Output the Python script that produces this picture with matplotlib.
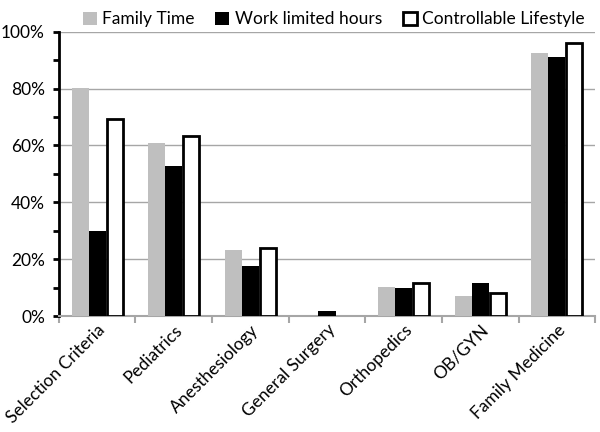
"""Career selection criteria by specialty, grouped bar chart."""

import numpy as np
import matplotlib.pyplot as plt
from matplotlib.ticker import MultipleLocator, PercentFormatter

plt.rcParams["font.family"] = ["Lato", "DejaVu Sans"]

categories = [
    "Selection Criteria",
    "Pediatrics",
    "Anesthesiology",
    "General Surgery",
    "Orthopedics",
    "OB/GYN",
    "Family Medicine",
]
family_time = [80.3, 61.0, 23.3, 0.0, 10.2, 7.2, 92.6]
work_limited = [30.0, 52.6, 17.6, 1.8, 9.7, 11.5, 91.2]
controllable = [69.4, 63.2, 24.0, 0.0, 11.5, 8.2, 96.2]

series = [
    ("Family Time", family_time, "#bfbfbf", "#bfbfbf", 0),
    ("Work limited hours", work_limited, "black", "black", 0),
    ("Controllable Lifestyle", controllable, "white", "black", 2),
]

fig = plt.figure(figsize=(6, 4.32), dpi=100)
ax = fig.add_axes([0.098, 0.2685, 0.894, 0.658])

x = np.arange(len(categories))
width = 0.222
handles = []
for i, (name, vals, face, edge, lw) in enumerate(series):
    pos = x + (i - 1) * width
    if lw:
        # outline bars, slightly offset so the border doesn't cover the black bar
        bars = ax.bar(pos + width * 0.03, vals, width=width * 0.94, color=face,
                      edgecolor=edge, linewidth=lw, zorder=3)
        for b, v in zip(bars, vals):
            if v == 0:
                b.set_visible(False)
    else:
        bars = ax.bar(pos, vals, width=width, color=face, edgecolor="none",
                      zorder=3)
    handles.append(bars)

ax.set_xlim(-0.5, len(categories) - 0.5)
ax.set_ylim(0, 100)
ax.yaxis.set_major_locator(MultipleLocator(20))
ax.yaxis.set_minor_locator(MultipleLocator(10))
ax.yaxis.set_major_formatter(PercentFormatter(decimals=0))
ax.grid(axis="y", color="#a6a6a6", linewidth=1, zorder=0)

ax.spines["top"].set_visible(False)
ax.spines["right"].set_visible(False)
ax.spines["left"].set_linewidth(2)
ax.spines["left"].set_color("black")
ax.spines["bottom"].set_color("#a6a6a6")
ax.spines["bottom"].set_linewidth(1.5)

ax.tick_params(axis="y", which="both", direction="out", length=4, width=2,
               color="black", labelsize=12.5, pad=6)
ax.tick_params(axis="x", which="major", length=0, labelsize=12.5, pad=4)
ax.set_xticks(x)
ax.set_xticklabels(categories, rotation=45, ha="right",
                   rotation_mode="anchor")
ax.set_xticks(np.arange(len(categories) + 1) - 0.5, minor=True)
ax.tick_params(axis="x", which="minor", direction="out", length=5, width=1.5,
               color="#a6a6a6")

fig.legend(handles, [s[0] for s in series], loc="upper right",
           bbox_to_anchor=(1.0, 1.01), ncol=3, frameon=False, fontsize=12.5,
           handlelength=0.8, handleheight=0.8, handletextpad=0.3,
           columnspacing=1.2)

fig.savefig("out.png", dpi=100)
